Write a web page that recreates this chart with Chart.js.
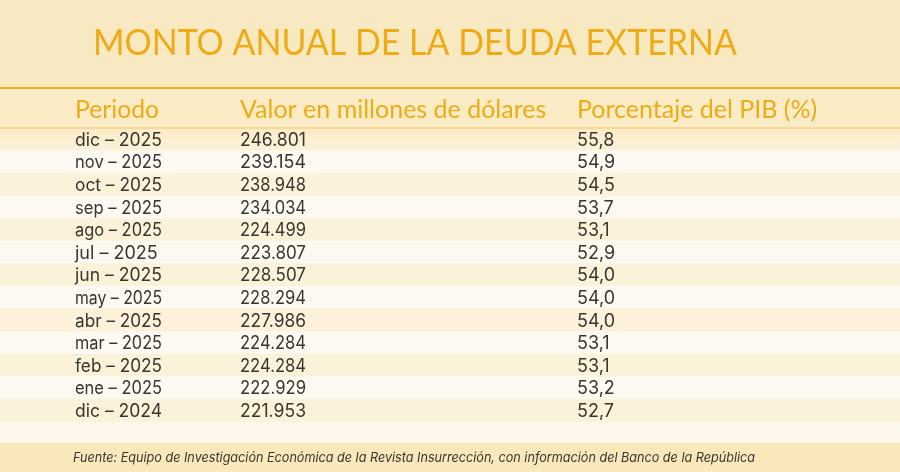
<!DOCTYPE html>
<html>
<head>
<meta charset="utf-8">
<script src="https://cdn.jsdelivr.net/npm/chart.js@4.4.1/dist/chart.umd.min.js"></script>
<style>
  html, body { margin: 0; padding: 0; background: #fdf8ec; }
  #wrap { width: 900px; height: 472px; position: relative; }
</style>
</head>
<body>
<div id="wrap"><canvas id="tabla"></canvas></div>
<script>
// datos de la tabla
const periodos = ['dic – 2025', 'nov – 2025', 'oct – 2025', 'sep – 2025', 'ago – 2025', 'jul – 2025',
    'jun – 2025', 'may – 2025', 'abr – 2025', 'mar – 2025', 'feb – 2025', 'ene – 2025', 'dic – 2024'];
const valores = [246801, 239154, 238948, 234034, 224499, 223807, 228507, 228294, 227986, 224284, 224284, 222929, 221953];
const pib = [55.8, 54.9, 54.5, 53.7, 53.1, 52.9, 54.0, 54.0, 54.0, 53.1, 53.1, 53.2, 52.7];
const encabezados = ['Periodo', 'Valor en millones de dólares', 'Porcentaje del PIB (%)'];
const titulo = 'MONTO ANUAL DE LA DEUDA EXTERNA';
const fuente = 'Fuente: Equipo de Investigación Económica de la Revista Insurrección, con información del Banco de la República';

// posiciones de columna en unidades del eje x (0..900)
const colX = [75, 240, 577];
const anchoEnc = [84, 311, 242];

const naranja = '#eeab16';
const texto = '#3a3530';

function fmtMiles(n) {
    return String(n).replace(/\B(?=(\d{3})+(?!\d))/g, '.');
}
function fmtPib(n) {
    return n.toFixed(1).replace('.', ',');
}

const marco = {
    id: 'marco',
    beforeDraw(chart) {
        const ctx = chart.ctx;
        const w = chart.width, h = chart.height;
        const top = chart.chartArea.top, bottom = chart.chartArea.bottom;
        ctx.save();
        ctx.fillStyle = '#fdf8ec';
        ctx.fillRect(0, 0, w, h);
        // banda del titulo
        ctx.fillStyle = '#f9e9c0';
        ctx.fillRect(0, 0, w, 88);
        // banda de encabezados
        ctx.fillStyle = '#fbecc6';
        ctx.fillRect(0, 88, w, top - 88);
        // banda de la fuente
        ctx.fillStyle = '#f8e8ba';
        ctx.fillRect(0, bottom + 21, w, h - bottom - 21);
        ctx.restore();
    },
    afterDatasetsDraw(chart) {
        const ctx = chart.ctx;
        const x = chart.scales.x, y = chart.scales.y;
        const top = chart.chartArea.top;
        ctx.save();
        // degradado bajo el encabezado
        const g = ctx.createLinearGradient(0, top, 0, top + 22);
        g.addColorStop(0, 'rgba(250,232,186,0.6)');
        g.addColorStop(1, 'rgba(250,232,186,0)');
        ctx.fillStyle = g;
        ctx.fillRect(0, top, chart.width, 22);

        // lineas
        ctx.strokeStyle = '#f0ae22';
        ctx.lineWidth = 2;
        ctx.beginPath(); ctx.moveTo(0, 88); ctx.lineTo(chart.width, 88); ctx.stroke();
        ctx.strokeStyle = '#f5c869';
        ctx.lineWidth = 1;
        ctx.beginPath(); ctx.moveTo(0, top); ctx.lineTo(chart.width, top); ctx.stroke();

        // titulo
        ctx.fillStyle = naranja;
        ctx.textBaseline = 'alphabetic';
        ctx.font = '37px Lato';
        ctx.fillText(titulo, 93, 55, 644);

        // encabezados
        ctx.font = '25px Lato';
        encabezados.forEach(function (t, i) {
            ctx.fillText(t, x.getPixelForValue(colX[i]), 118, anchoEnc[i]);
        });

        // celdas
        ctx.fillStyle = texto;
        ctx.font = '18px Inter';
        ctx.textBaseline = 'middle';
        periodos.forEach(function (p, i) {
            const py = y.getPixelForValue(i) + 1;
            ctx.fillText(p, x.getPixelForValue(colX[0]), py, 87);
            ctx.fillText(fmtMiles(valores[i]), x.getPixelForValue(colX[1]), py, 66);
            ctx.fillText(fmtPib(pib[i]), x.getPixelForValue(colX[2]), py, 40);
        });

        // fuente
        ctx.font = 'italic 13.5px Inter';
        ctx.textBaseline = 'middle';
        ctx.fillText(fuente, 73, 458, 682);
        ctx.restore();
    }
};

new Chart(document.getElementById('tabla'), {
    type: 'bar',
    data: {
        labels: periodos,
        datasets: [{
            label: 'filas',
            data: periodos.map(function () { return 900; }),
            backgroundColor: periodos.map(function (p, i) { return i % 2 === 0 ? '#fcf2da' : '#fefaf1'; }),
            borderWidth: 0,
            barPercentage: 1,
            categoryPercentage: 1
        }]
    },
    options: {
        indexAxis: 'y',
        responsive: true,
        maintainAspectRatio: false,
        animation: false,
        events: [],
        layout: { padding: { top: 128, bottom: 50, left: 0, right: 0 } },
        plugins: {
            legend: { display: false },
            tooltip: { enabled: false }
        },
        scales: {
            x: { type: 'linear', min: 0, max: 900, display: false },
            y: { type: 'category', display: false, offset: true }
        }
    },
    plugins: [marco]
});
</script>
</body>
</html>
